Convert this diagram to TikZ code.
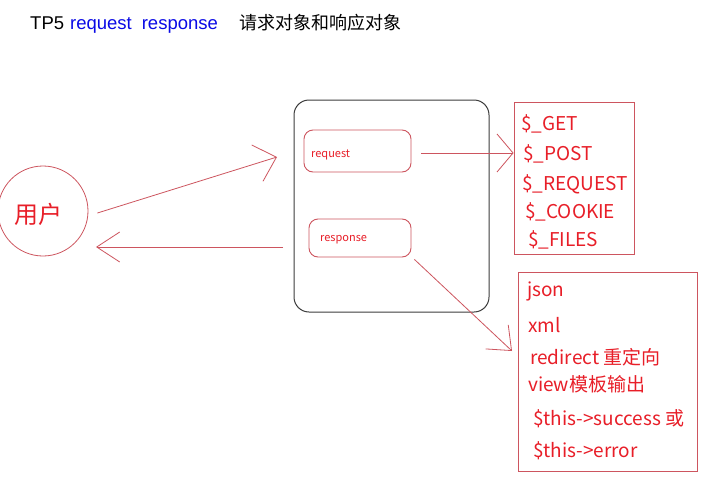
\documentclass[tikz,border=0pt]{standalone}
\usepackage{fontspec}
\setmainfont{Liberation Sans}
\newfontfamily\cjk{Noto Sans CJK SC}
\usetikzlibrary{arrows.meta}
\definecolor{lred}{RGB}{205,85,95}
\definecolor{tred}{RGB}{232,30,40}
\definecolor{tblue}{RGB}{10,10,230}
\definecolor{bgray}{RGB}{60,60,60}
\tikzset{
  lbl/.style={inner sep=0pt, anchor=west, text=tred, font=\cjk\fontsize{19}{20}\selectfont},
  smalllbl/.style={inner sep=0pt, anchor=west, text=tred, font=\cjk\fontsize{11}{12}\selectfont},
  rbox/.style={draw=lred, line width=0.9pt, rounded corners=9pt, inner sep=0pt},
  listbox/.style={draw=lred, line width=0.9pt, inner sep=0pt},
  conn/.style={draw=lred, line width=0.8pt},
}
\begin{document}
\begin{tikzpicture}[x=1pt,y=-1pt]
\useasboundingbox[fill=white] (0,0) rectangle (726,482);
% title
\node[inner sep=0pt, anchor=west, font=\fontsize{18.5}{20}\selectfont] (title) at (30,24)
  {TP5\hspace{6pt}\textcolor{tblue}{request\hspace{10pt}response}\hspace{22pt}{\cjk\fontsize{18}{20}\selectfont 请求对象和响应对象}};
% user
\node[circle, draw=lred, line width=0.8pt, minimum size=90pt, inner sep=0pt] (user) at (43,211) {};
\node[inner sep=0pt, text=tred, font=\cjk\fontsize{24}{26}\selectfont] (usertxt) at (39,214) {用户};
% big box
\node[draw=bgray, line width=1pt, rounded corners=15pt, minimum width=195pt, minimum height=212pt, inner sep=0pt] (server) at (391.5,206) {};
\node[rbox, minimum width=107pt, minimum height=42pt] (req) at (357.5,151) {};
\node[smalllbl] (reqtxt) at (311,155) {request};
\node[rbox, minimum width=102pt, minimum height=38pt] (resp) at (360,238) {};
\node[smalllbl] (resptxt) at (320,240) {response};
% list boxes
\node[listbox, minimum width=120pt, minimum height=152pt] (inbox) at (574,178) {};
\node[lbl] (g1) at (521,124) {\$\_GET};
\node[lbl] (g2) at (523,154) {\$\_POST};
\node[lbl] (g3) at (522,184) {\$\_REQUEST};
\node[lbl] (g4) at (525,212) {\$\_COOKIE};
\node[lbl] (g5) at (528,240) {\$\_FILES};
\node[listbox, minimum width=179pt, minimum height=199pt] (outbox) at (607.5,371.5) {};
\node[lbl] (o1) at (527,291) {json};
\node[lbl] (o2) at (528,325) {xml};
\node[lbl] (o3) at (530,357) {redirect 重定向};
\node[lbl] (o4) at (528,384) {view模板输出};
\node[lbl] (o5) at (533,419) {\$this->success 或};
\node[lbl] (o6) at (533,451) {\$this->error};
% connectors
\coordinate (a1s) at ([xshift=9pt,yshift=-2pt]user.east);
\coordinate (a1e) at (277,157);
\coordinate (a2s) at (283,247);
\coordinate (a2e) at (96,247);
\coordinate (a3s) at ([xshift=10pt,yshift=-2pt]req.east);
\coordinate (a4s) at ([xshift=3pt,yshift=-2pt]resp.south east);
\coordinate (a4e) at (512,351);
\draw[conn, -{Straight Barb[length=20pt,width=38pt,line width=0.8pt]}] (a1s) -- (a1e);
\draw[conn, -{Straight Barb[length=23pt,width=30pt,line width=0.8pt]}] (a2s) -- (a2e);
\draw[conn, -{Straight Barb[length=16pt,width=38pt,line width=0.8pt]}] (a3s) -- (inbox.west |- a3s);
\draw[conn, -{Straight Barb[length=20pt,width=33pt,line width=0.8pt]}] (a4s) -- (a4e);
\end{tikzpicture}
\end{document}
